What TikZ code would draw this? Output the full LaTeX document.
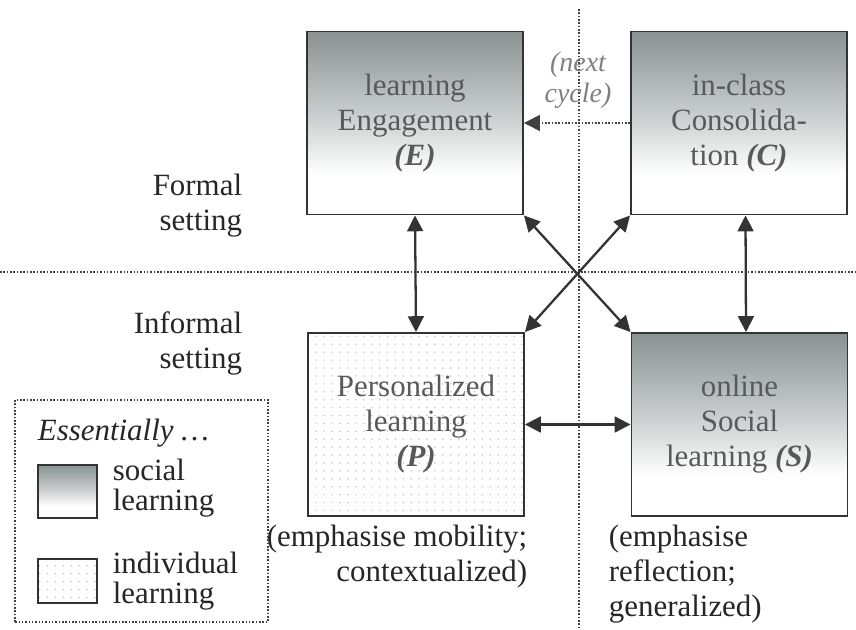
\documentclass[tikz,border=0pt]{standalone}
\usepackage{fontspec}
\setmainfont{Liberation Serif}
\usepackage{tikz}
\usetikzlibrary{arrows.meta, patterns.meta}

\definecolor{socialgray}{RGB}{138,146,146}
\pgfdeclareverticalshading{socialfade}{100bp}{color(0bp)=(white); color(25bp)=(white); color(36bp)=(white); color(52bp)=(socialgray!45); color(75bp)=(socialgray); color(100bp)=(socialgray)}

\begin{document}
\begin{tikzpicture}[line width=1pt,
            font=\fontsize{17.6}{19.9}\selectfont, text=black!85,
            box/.style={draw=black!80, line width=1.1pt, minimum width=4.32cm, minimum height=3.66cm, align=center, text=black!65},
            social/.style={box, shading=socialfade},
            individual/.style={box, pattern={Dots[distance=4.5pt, radius=0.5pt]}, pattern color=black!22},
            link/.style={draw=black!80, line width=1.3pt, {Triangle[length=9pt, width=9pt]}-{Triangle[length=9pt, width=9pt]}},
            divider/.style={densely dotted, draw=black!75, line width=0.9pt},
            note/.style={inner sep=0pt}]
            \useasboundingbox (0, 0) rectangle (17.12, 12.58);

            % draw dotted dividers
            \draw[divider] (0, 7.14) -- (17.12, 7.14);
            \draw[divider] (11.58, 12.4) -- (11.58, 0);

            % draw the four boxes
            \node[social] (E) at (8.30, 10.12) {learning\\Engagement\\\textbf{\textit{(E)}}};
            \node[social] (C) at (14.78, 10.12) {in-class\\Consolida-\\tion \textbf{\textit{(C)}}};
            \node[individual] (P) at (8.32, 4.09) {Personalized\\learning\\\textbf{\textit{(P)}}};
            \node[social] (S) at (14.79, 4.09) {online\\Social\\learning \textbf{\textit{(S)}}};

            % draw next cycle arrow
            \draw[divider, -{Triangle[length=9pt, width=9pt]}] (C.west) -- (E.east);
            \node[note, align=center, text=black!50, font=\fontsize{15.9}{17.5}\selectfont\itshape] (cycle) at (11.56, 10.98) {(next\\cycle)};

            % draw links
            \draw[link] (E.south) -- (P.north);
            \draw[link] ([xshift=1.3mm]C.south) -- ([xshift=1.3mm]S.north);
            \draw[link] (E.south east) -- (S.north west);
            \draw[link] (C.south west) -- (P.north east);
            \draw[link] (P.east) -- (S.west);

            % draw setting labels
            \node[note, anchor=east, align=right] (formal) at (4.86, 8.46) {Formal\\setting};
            \node[note, anchor=east, align=right] (informal) at (4.86, 5.72) {Informal\\setting};

            % draw notes under boxes
            \node[note, anchor=east, align=right] (Pnote) at (10.56, 1.44) {(emphasise mobility;\\contextualized)};
            \node[note, anchor=west, align=left] (Snote) at (12.16, 1.10) {(emphasise\\reflection;\\generalized)};

            % draw legend
            \draw[divider] (0.3, 0.14) rectangle (5.36, 4.58);
            \node[note, anchor=west, font=\fontsize{17.6}{19.9}\selectfont\itshape] (essential) at (0.74, 3.92) {Essentially \dots};
            \node[social, minimum width=1.18cm, minimum height=1.06cm] (keysocial) at (1.35, 2.75) {};
            \node[individual, minimum width=1.18cm, minimum height=0.88cm] (keyindividual) at (1.35, 0.96) {};
            \node[note, anchor=west, align=left, font=\fontsize{17.6}{17}\selectfont] (keysocialtext) at (2.24, 2.82) {social\\learning};
            \node[note, anchor=west, align=left, font=\fontsize{17.6}{17}\selectfont] (keyindividualtext) at (2.24, 0.96) {individual\\learning};
        \end{tikzpicture}
\end{document}
